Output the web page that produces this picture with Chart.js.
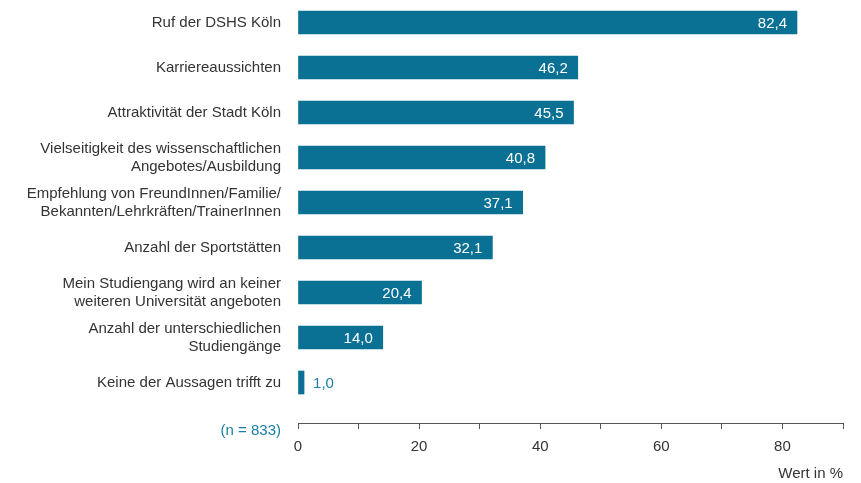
<!DOCTYPE html>
<html>
<head>
<meta charset="utf-8">
<script src="https://cdn.jsdelivr.net/npm/chart.js@4.4.0/dist/chart.umd.min.js"></script>
<style>
  html, body { margin: 0; padding: 0; background: #fff; }
  #wrap { width: 861px; height: 483px; }
</style>
</head>
<body>
<div id="wrap"><canvas id="grafico_gruende"></canvas></div>
<script>
const categorias = [
  'Ruf der DSHS Köln',
  'Karriereaussichten',
  'Attraktivität der Stadt Köln',
  ['Vielseitigkeit des wissenschaftlichen', 'Angebotes/Ausbildung'],
  ['Empfehlung von FreundInnen/Familie/', 'Bekannten/Lehrkräften/TrainerInnen'],
  'Anzahl der Sportstätten',
  ['Mein Studiengang wird an keiner', 'weiteren Universität angeboten'],
  ['Anzahl der unterschiedlichen', 'Studiengänge'],
  'Keine der Aussagen trifft zu'
];
const werte = [82.4, 46.2, 45.5, 40.8, 37.1, 32.1, 20.4, 14.0, 1.0];
const xTickLabels = [0, 20, 40, 60, 80];
const stichprobe = '(n = 833)';

const barFarbe = '#0b7194';
const blau = '#1a7ea5';
const grau = '#333333';
const schrift = { family: '"Liberation Sans", Arial, sans-serif', size: 15, lineHeight: 1.2 };

// Werte an den Balkenenden (weiß innen, blau außen bei kurzen Balken)
const wertLabels = {
  id: 'wertLabels',
  afterDatasetsDraw(chart) {
    const ctx = chart.ctx;
    const meta = chart.getDatasetMeta(0);
    ctx.save();
    ctx.font = '15px "Liberation Sans", Arial, sans-serif';
    ctx.textBaseline = 'middle';
    meta.data.forEach((bar, i) => {
      const txt = werte[i].toFixed(1).replace('.', ',');
      if (werte[i] < 5) {
        ctx.fillStyle = blau;
        ctx.textAlign = 'left';
        ctx.fillText(txt, bar.x + 9, bar.y + 1);
      } else {
        ctx.fillStyle = '#ffffff';
        ctx.textAlign = 'right';
        ctx.fillText(txt, bar.x - 10, bar.y + 1);
      }
    });
    ctx.restore();
  }
};

const grafico = document.getElementById('grafico_gruende');

new Chart(grafico, {
  type: 'bar',
  data: {
    datasets: [{
      label: 'Gründe',
      data: werte.map((v, i) => ({ x: v, y: i })),
      backgroundColor: barFarbe,
      borderWidth: 0,
      barThickness: 23
    }]
  },
  options: {
    indexAxis: 'y',
    responsive: true,
    maintainAspectRatio: false,
    animation: false,
    layout: { padding: { left: 0, right: 18, top: 0, bottom: 0 } },
    plugins: {
      legend: { display: false },
      tooltip: { enabled: false }
    },
    scales: {
      y: {
        type: 'linear',
        reverse: true,
        offset: false,
        min: -0.5,
        max: 8.9,
        grid: { display: false, drawTicks: false, offset: false },
        border: { display: false },
        afterBuildTicks: (scale) => {
          scale.ticks = categorias.map((c, i) => ({ value: i })).concat([{ value: 9.07 }]);
        },
        ticks: {
          autoSkip: false,
          padding: 17,
          font: schrift,
          color: (c) => (c.tick && c.tick.value > 8.5) ? blau : grau,
          callback: (v) => v > 8.5 ? stichprobe : categorias[v]
        },
        afterFit: (scale) => {
          scale.width = 298;
          scale.paddingTop = 0;
          scale.paddingBottom = 0;
        }
      },
      x: {
        min: 0,
        max: 90,
        grid: { drawOnChartArea: false, tickLength: 6, tickColor: '#555555', tickWidth: 1 },
        border: { color: '#555555', width: 1 },
        ticks: {
          stepSize: 10,
          autoSkip: false,
          maxRotation: 0,
          padding: 9,
          font: schrift,
          color: grau,
          callback: (v) => xTickLabels.includes(v) ? String(v) : ''
        },
        title: {
          display: true,
          text: 'Wert in %',
          align: 'end',
          color: grau,
          font: schrift,
          padding: { top: 4, bottom: 0 }
        },
        afterFit: (scale) => {
          scale.height = 60;
        }
      }
    }
  },
  plugins: [wertLabels]
});
</script>
</body>
</html>
